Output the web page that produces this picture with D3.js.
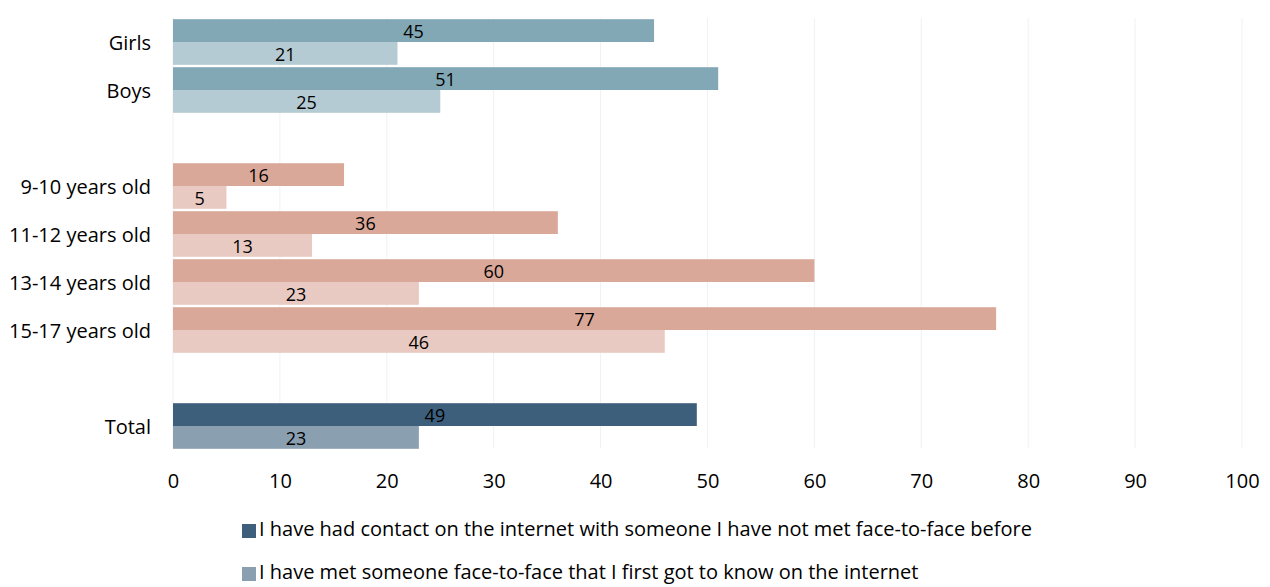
<!DOCTYPE html>
<html>
<head>
<meta charset="utf-8">
<script src="https://cdn.jsdelivr.net/npm/d3@7"></script>
<style>
  html, body { margin: 0; padding: 0; background: #ffffff; }
  svg { display: block; font-family: "Open Sans", "Noto Sans", sans-serif; }
</style>
</head>
<body>
<svg id="chart" width="1270" height="587"></svg>
<script>
// Row labels; empty strings are spacer rows between the groups
const categories = ["Girls", "Boys", "", "9-10 years old", "11-12 years old", "13-14 years old", "15-17 years old", "", "Total"];
// Which colour family each row uses
const rowGroups = ["gender", "gender", null, "age", "age", "age", "age", null, "total"];

const seriesNames = [
  "I have had contact on the internet with someone I have not met face-to-face before",
  "I have met someone face-to-face that I first got to know on the internet"
];
// Percentages per row (null for spacer rows)
const contactValues = [45, 51, null, 16, 36, 60, 77, null, 49];
const metValues     = [21, 25, null, 5, 13, 23, 46, null, 23];

const xTicks = [0, 10, 20, 30, 40, 50, 60, 70, 80, 90, 100];

const palette = {
  gender: ["#82a7b5", "#b5cbd3"],
  age:    ["#daa899", "#e8cac2"],
  total:  ["#3d5f7c", "#8a9fb0"]
};

const FONT = '"Open Sans", "Noto Sans", sans-serif';
const svg = d3.select("#chart");
const margin = { left: 173, right: 28, top: 18, bottom: 137 };
const W = 1270, H = 587;

const x = d3.scaleLinear().domain([0, 100]).range([margin.left, W - margin.right]);
const y = d3.scaleBand()
  .domain(d3.range(categories.length))
  .range([margin.top, H - margin.bottom])
  .paddingInner(0.05)
  .paddingOuter(0.025);
const sub = d3.scaleBand().domain([0, 1]).range([0, y.bandwidth()]);

// vertical gridlines
svg.append("g")
  .selectAll("line")
  .data(xTicks)
  .join("line")
  .attr("x1", d => x(d)).attr("x2", d => x(d))
  .attr("y1", margin.top).attr("y2", H - margin.bottom - 2)
  .attr("stroke", "#f1f1f1")
  .attr("stroke-width", 1);

// x axis tick labels
const xAxis = d3.axisBottom(x).tickValues(xTicks).tickSize(0).tickPadding(0).tickFormat(d3.format("d"));
svg.append("g")
  .attr("transform", `translate(0, ${H - margin.bottom + 24})`)
  .call(xAxis)
  .attr("font-family", FONT)
  .attr("font-size", 20)
  .call(g => g.select(".domain").remove())
  .call(g => g.selectAll("text").attr("fill", "#000"));

// y axis category labels
const yAxis = d3.axisLeft(y).tickSize(0).tickPadding(22).tickFormat(i => categories[i]);
svg.append("g")
  .attr("transform", `translate(${margin.left}, 1.5)`)
  .call(yAxis)
  .attr("font-family", FONT)
  .attr("font-size", 20)
  .call(g => g.select(".domain").remove())
  .call(g => g.selectAll("text").attr("fill", "#000"));

// bars
const rows = categories.map((c, i) => ({ i, group: rowGroups[i], vals: [contactValues[i], metValues[i]] }))
  .filter(r => r.group);

const rowG = svg.append("g").selectAll("g")
  .data(rows)
  .join("g")
  .attr("transform", r => `translate(0, ${y(r.i)})`);

const cells = rowG.selectAll("g")
  .data(r => r.vals.map((v, k) => ({ v, k, group: r.group })))
  .join("g");

cells.append("rect")
  .attr("x", x(0))
  .attr("y", d => sub(d.k))
  .attr("width", d => x(d.v) - x(0))
  .attr("height", sub.bandwidth())
  .attr("fill", d => palette[d.group][d.k]);

cells.append("text")
  .attr("x", d => (x(0) + x(d.v)) / 2)
  .attr("y", d => sub(d.k) + sub.bandwidth() / 2 + 3)
  .attr("text-anchor", "middle")
  .attr("dominant-baseline", "middle")
  .attr("font-size", 18)
  .attr("fill", "#000")
  .text(d => d.v);

// legend
const legend = svg.append("g").attr("transform", "translate(242, 0)");
const legendRows = [531, 574];
seriesNames.forEach((name, k) => {
  const g = legend.append("g").attr("transform", `translate(0, ${legendRows[k]})`);
  g.append("rect").attr("x", 0).attr("y", -7).attr("width", 14).attr("height", 14)
    .attr("fill", palette.total[k]);
  g.append("text").attr("x", 17).attr("y", 0)
    .attr("dominant-baseline", "middle")
    .attr("font-size", 20).attr("fill", "#000")
    .text(name);
});
</script>
</body>
</html>
